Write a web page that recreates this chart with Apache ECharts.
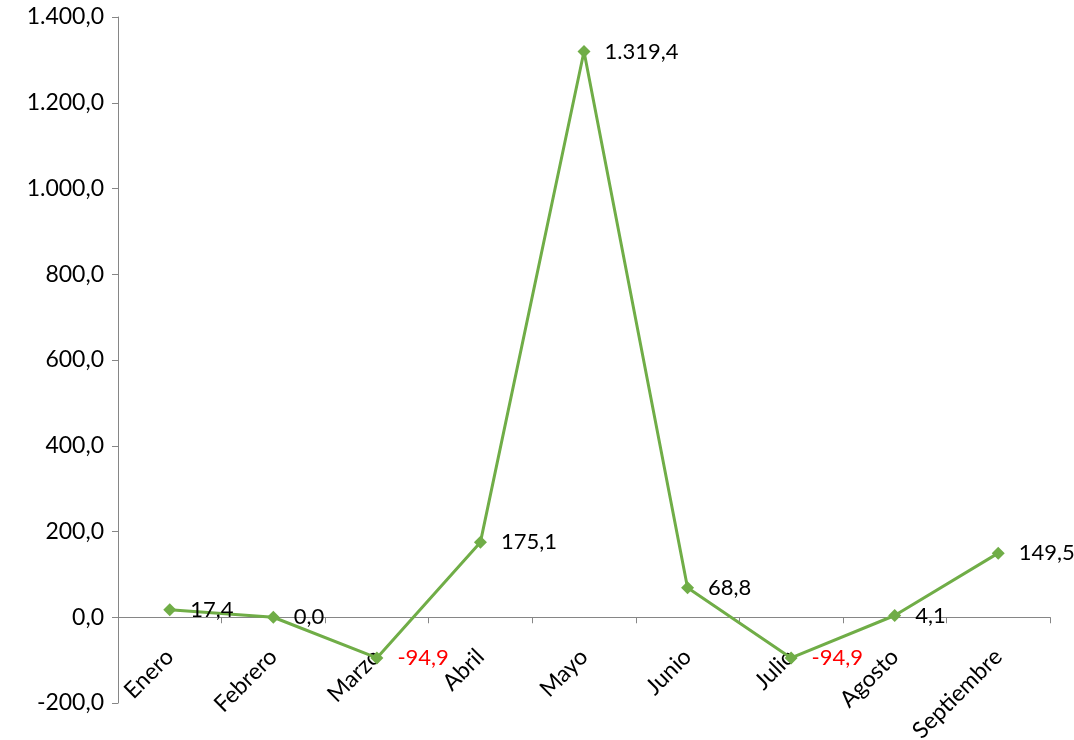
<!DOCTYPE html>
<html>
<head>
<meta charset="utf-8">
<script src="https://cdn.jsdelivr.net/npm/echarts@6/dist/echarts.min.js"></script>
<style>
  html, body { margin: 0; padding: 0; background: #fff; }
  #chart { width: 1074px; height: 740px; }
</style>
</head>
<body>
<div id="chart"></div>
<script>
const months = ['Enero', 'Febrero', 'Marzo', 'Abril', 'Mayo', 'Junio', 'Julio', 'Agosto', 'Septiembre'];
const values = [17.4, 0.0, -94.9, 175.1, 1319.4, 68.8, -94.9, 4.1, 149.5];

// number with '.' thousands and ',' decimal
function fmt(v) {
  const parts = Math.abs(v).toFixed(1).split('.');
  const intPart = parts[0].replace(/\B(?=(\d{3})+(?!\d))/g, '.');
  return (v < 0 ? '-' : '') + intPart + ',' + parts[1];
}

const FONT = 'Lato, "Open Sans", sans-serif';
const chart = echarts.init(document.getElementById('chart'));

chart.setOption({
  animation: false,
  grid: { left: 118, right: 24, top: 17, bottom: 37, containLabel: false, outerBoundsMode: 'none' },
  xAxis: {
    type: 'category',
    data: months,
    boundaryGap: true,
    axisLine: { onZero: true, lineStyle: { color: '#868686', width: 1 } },
    axisTick: { show: true, alignWithLabel: false, length: 6, lineStyle: { color: '#868686' } },
    // labels sit just under the zero line, like the reference
    axisLabel: { rotate: 45, color: '#000', fontSize: 23, fontFamily: FONT, margin: -50, interval: 0 },
    splitLine: { show: false }
  },
  yAxis: {
    type: 'value',
    min: -200,
    max: 1400,
    interval: 200,
    axisLine: { show: true, lineStyle: { color: '#868686', width: 1 } },
    axisTick: { show: true, length: 6, lineStyle: { color: '#868686' } },
    axisLabel: { color: '#000', fontSize: 23, fontFamily: FONT, margin: 14, formatter: fmt },
    splitLine: { show: false }
  },
  series: [{
    type: 'line',
    data: values,
    symbol: 'diamond',
    symbolSize: 13,
    lineStyle: { color: '#70AD47', width: 3 },
    itemStyle: { color: '#70AD47' },
    label: {
      show: true,
      position: 'right',
      distance: 14,
      formatter: p => p.value < 0
        ? '{neg|' + fmt(p.value) + '}'
        : '{pos|' + fmt(p.value) + '}',
      rich: {
        pos: { color: '#000', fontSize: 22, fontFamily: FONT },
        neg: { color: '#FF0000', fontSize: 22, fontFamily: FONT }
      }
    }
  }]
});
</script>
</body>
</html>
